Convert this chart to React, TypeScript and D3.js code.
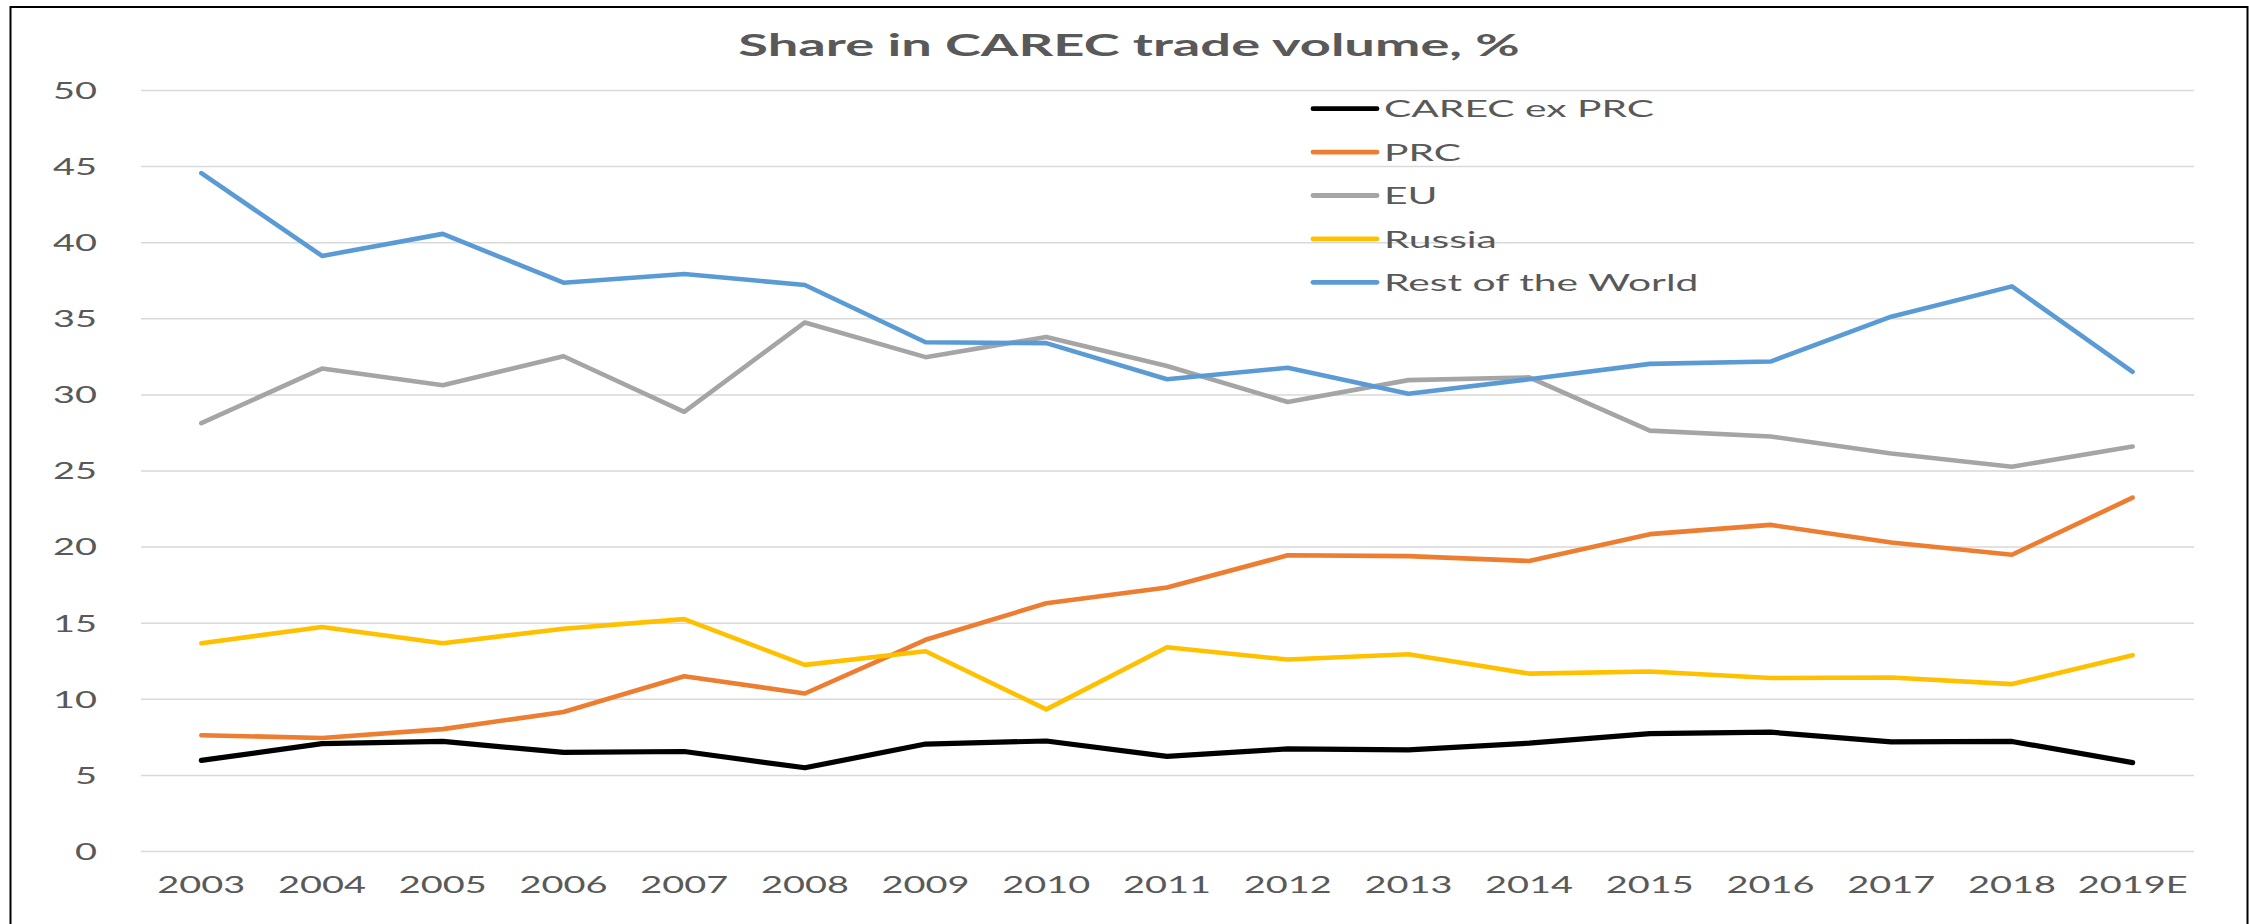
import React from "react";
import * as d3 from "d3";

const years = ["2003", "2004", "2005", "2006", "2007", "2008", "2009", "2010", "2011", "2012", "2013", "2014", "2015", "2016", "2017", "2018", "2019E"];
const carecExPrc = [5.99, 7.09, 7.23, 6.51, 6.57, 5.5, 7.06, 7.26, 6.25, 6.74, 6.68, 7.12, 7.75, 7.84, 7.2, 7.23, 5.84];
const prc = [7.64, 7.46, 8.04, 9.17, 11.51, 10.38, 13.91, 16.31, 17.35, 19.46, 19.41, 19.09, 20.85, 21.46, 20.3, 19.5, 23.25];
const eu = [28.14, 31.73, 30.63, 32.54, 28.89, 34.76, 32.48, 33.81, 31.9, 29.53, 30.97, 31.15, 27.65, 27.27, 26.15, 25.28, 26.61];
const russia = [13.68, 14.75, 13.68, 14.64, 15.27, 12.26, 13.16, 9.34, 13.42, 12.61, 12.96, 11.69, 11.83, 11.4, 11.43, 11.0, 12.9];
const restOfWorld = [44.57, 39.13, 40.58, 37.37, 37.94, 37.22, 33.46, 33.4, 31.03, 31.78, 30.08, 31.03, 32.04, 32.19, 35.14, 37.13, 31.52];
const yTicks = [0, 5, 10, 15, 20, 25, 30, 35, 40, 45, 50];

const seriesNames = ["CAREC ex PRC", "PRC", "EU", "Russia", "Rest of the World"];
const seriesValues = [carecExPrc, prc, eu, russia, restOfWorld];
const seriesColors = ["#000000", "#ED7D31", "#A5A5A5", "#FFC000", "#5B9BD5"];

const W = 2249;
const H = 924;
const SX = 1.65; // the picture is stretched horizontally
const FONT = "Lato, 'Open Sans', sans-serif";
const TEXT = "#595959";

export default function App() {
  const x = d3.scaleBand().domain(years).range([141, 2193]).padding(0);
  const y = d3.scaleLinear().domain([0, 50]).range([851.5, 90.5]);
  const cx = (d: string) => (x(d) as number) + x.bandwidth() / 2;

  const line = d3
    .line<number>()
    .x((_, i) => cx(years[i]))
    .y((v) => y(v));

  const stretched = (tx: number, ty: number, sx = SX) => `translate(${tx},${ty}) scale(${sx},1)`;

  return (
    <svg width={W} height={H} style={{ position: "absolute", left: 0, top: 0, background: "#fff" }}>
      <rect x={0} y={0} width={W} height={H} fill="#fff" />
      <rect x={10.5} y={7} width={2237} height={H + 20} fill="none" stroke="#000" strokeWidth={2} />

      {/* title */}
      <text transform={stretched(1129, 56, 1.75)} textAnchor="middle" fontFamily={FONT} fontWeight={700} fontSize={31} fill={TEXT}>
        Share in CAREC trade volume, %
      </text>

      {/* gridlines and y labels */}
      {yTicks.map((t) => (
        <g key={t}>
          <line x1={141} x2={2194} y1={y(t)} y2={y(t)} stroke="#d9d9d9" strokeWidth={1.5} />
          <text transform={stretched(97, y(t) + 8.3)} textAnchor="end" fontFamily={FONT} fontSize={23} fill={TEXT}>
            {t}
          </text>
        </g>
      ))}

      {/* x labels */}
      {years.map((d) => (
        <text key={d} transform={stretched(cx(d), 893)} textAnchor="middle" fontFamily={FONT} fontSize={23} fill={TEXT}>
          {d}
        </text>
      ))}

      {/* lines */}
      {seriesValues.map((vals, i) => (
        <path
          key={seriesNames[i]}
          d={line(vals) as string}
          fill="none"
          stroke={seriesColors[i]}
          strokeWidth={i === 0 ? 5.2 : 4.6}
          strokeLinejoin="round"
          strokeLinecap="round"
        />
      ))}

      {/* legend */}
      {seriesNames.map((name, i) => {
        const ly = 108.7 + i * 43.4;
        return (
          <g key={name}>
            <line x1={1313} x2={1377} y1={ly} y2={ly} stroke={seriesColors[i]} strokeWidth={4.8} strokeLinecap="round" />
            <text transform={stretched(1384, ly + 8.6, 1.7)} fontFamily={FONT} fontSize={24} fill={TEXT}>
              {name}
            </text>
          </g>
        );
      })}
    </svg>
  );
}
